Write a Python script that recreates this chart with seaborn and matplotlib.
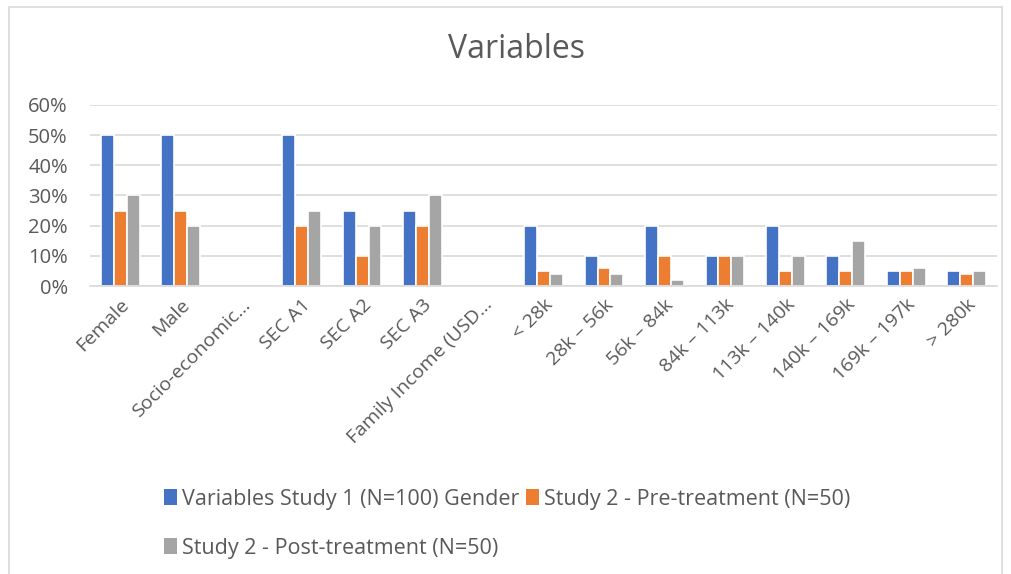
import numpy as np
import pandas as pd
import matplotlib
matplotlib.use("Agg")
import matplotlib.pyplot as plt
import seaborn as sns
from matplotlib.patches import Patch, Rectangle

categories = ["Female", "Male", "Socio-economic…", "SEC A1", "SEC A2", "SEC A3",
              "Family Income (USD…", "< 28k", "28k – 56k", "56k – 84k", "84k – 113k",
              "113k – 140k", "140k – 169k", "169k – 197k", "> 280k"]
study1 = [50, 50, np.nan, 50, 25, 25, np.nan, 20, 10, 20, 10, 20, 10, 5, 5]
pre = [25, 25, np.nan, 20, 10, 20, np.nan, 5, 6, 10, 10, 5, 5, 5, 4]
post = [30, 20, np.nan, 25, 20, 30, np.nan, 4, 4, 2, 10, 10, 15, 6, 5]
series = ["Variables Study 1 (N=100) Gender", "Study 2 - Pre-treatment (N=50)",
          "Study 2 - Post-treatment (N=50)"]
yticks = [0, 10, 20, 30, 40, 50, 60]
colors = ["#4472C4", "#ED7D31", "#A5A5A5"]

rows = []
for s, vals in zip(series, [study1, pre, post]):
    for c, v in zip(categories, vals):
        rows.append({"cat": c, "series": s, "val": v / 100.0})
df = pd.DataFrame(rows)

sns.set_theme(style="white")
plt.rcParams["font.family"] = ["Open Sans", "DejaVu Sans"]
txt = "#595959"

fig = plt.figure(figsize=(10.11, 5.74), dpi=100)
ax = fig.add_axes([90 / 1011, 1 - 286 / 574, (997 - 90) / 1011, 181 / 574])
sns.barplot(data=df, x="cat", y="val", hue="series", order=categories,
            hue_order=series, palette=colors, width=0.64, ax=ax,
            edgecolor="white", linewidth=1.2, saturation=1, legend=False)
ax.set_ylim(0, 0.6)
ax.set_xlim(-0.5, len(categories) - 0.5)
ax.set_yticks([t / 100 for t in yticks])
ax.set_yticklabels([f"{t}%" for t in yticks], color=txt, fontsize=14.5)
ax.yaxis.grid(True, color="#D9D9D9", linewidth=1.2)
ax.set_axisbelow(True)
for sp in ["top", "right", "left"]:
    ax.spines[sp].set_visible(False)
ax.spines["bottom"].set_color("#D9D9D9")
ax.spines["bottom"].set_linewidth(1.2)
ax.set_xlabel("")
ax.set_ylabel("")
ax.tick_params(axis="y", length=0, pad=16)
ax.tick_params(axis="x", length=0, pad=7)
ax.set_xticks(range(len(categories)))
ax.set_xticklabels(categories, rotation=45, ha="right", rotation_mode="anchor",
                   color=txt, fontsize=14)

fig.text(517 / 1011, 1 - 50 / 574, "Variables", ha="center", va="center",
         fontsize=23, color=txt)

handles = [Patch(facecolor=c, edgecolor="none") for c in colors]
order = [0, 2, 1]
leg = fig.legend([handles[i] for i in order], [series[i] for i in order],
                 ncol=2, loc="upper left", bbox_to_anchor=(155 / 1011, 1 - 480 / 574),
                 frameon=False, fontsize=15.5, labelcolor=txt, handlelength=0.6,
                 handleheight=0.8, handletextpad=0.25, columnspacing=0.3,
                 labelspacing=1.3, borderaxespad=0)

fig.patches.append(Rectangle((9 / 1011, -0.01), 1 - 18 / 1011, 1 - 7 / 574 + 0.01,
                             transform=fig.transFigure, fill=False,
                             edgecolor="#D9D9D9", linewidth=1.2))

fig.savefig("out.png", dpi=100, facecolor="white")
